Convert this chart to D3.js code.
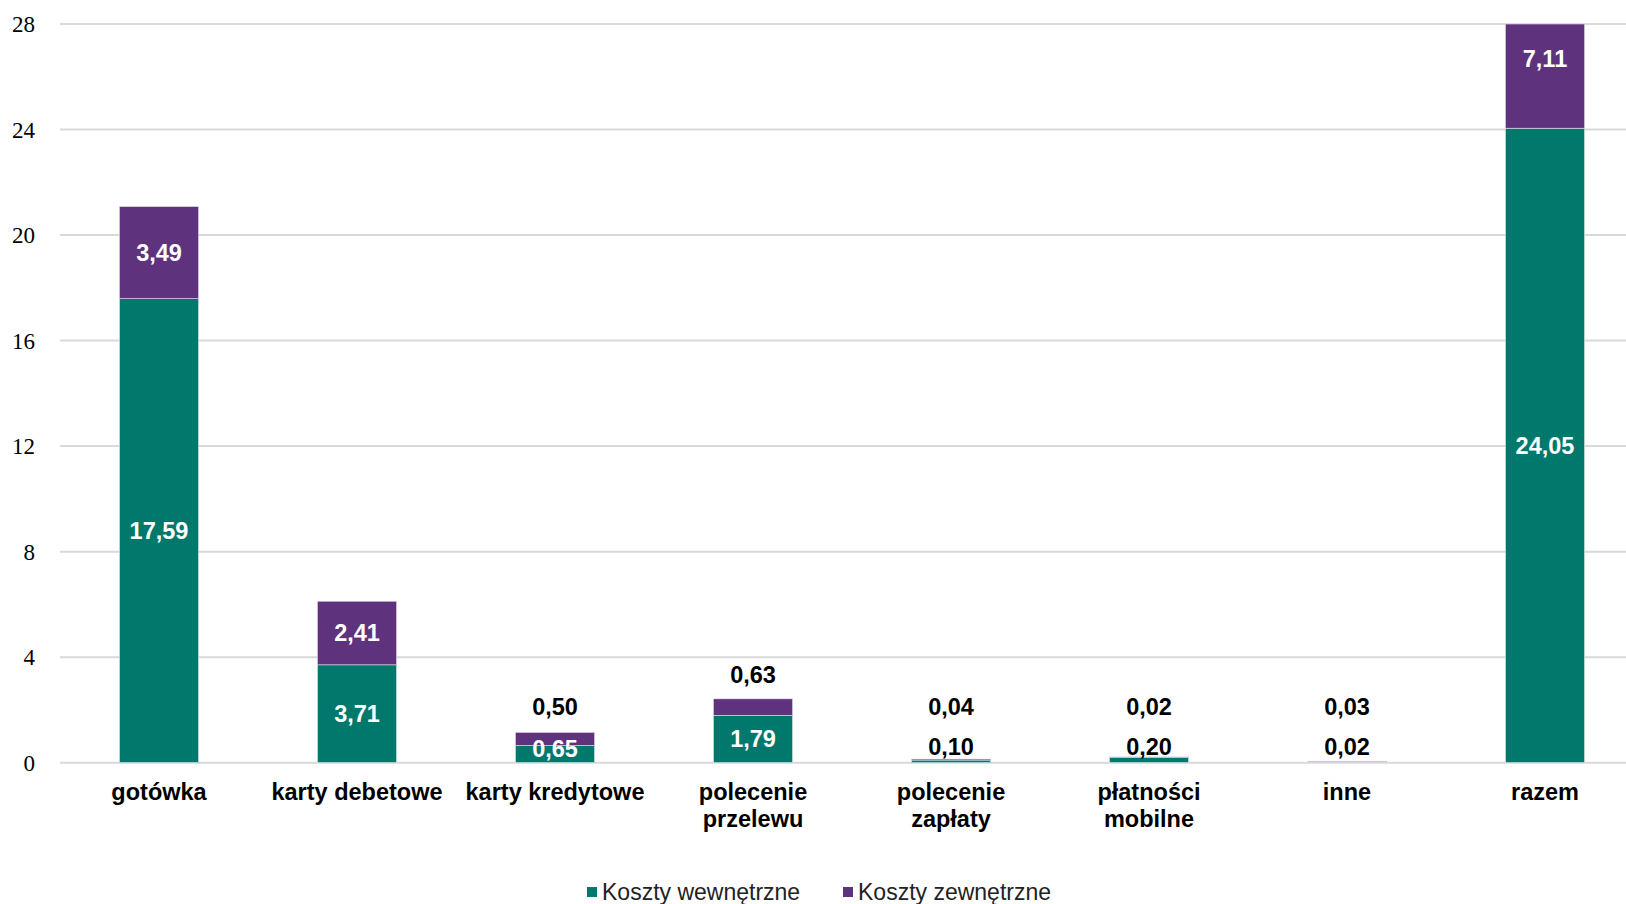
<!DOCTYPE html>
<html><head><meta charset="utf-8">
<script src="https://cdn.jsdelivr.net/npm/d3@7"></script>
<style>body{margin:0;background:#fff;}svg{display:block;}</style>
</head><body>
<svg id="chart" width="1626" height="904"></svg>
<script>
const categories = ["gotówka", "karty debetowe", "karty kredytowe", "polecenie przelewu", "polecenie zapłaty", "płatności mobilne", "inne", "razem"];
const categoryLines = [["gotówka"], ["karty debetowe"], ["karty kredytowe"], ["polecenie", "przelewu"], ["polecenie", "zapłaty"], ["płatności", "mobilne"], ["inne"], ["razem"]];
const internalCosts = [17.59, 3.71, 0.65, 1.79, 0.10, 0.20, 0.02, 24.05];
const externalCosts = [3.49, 2.41, 0.50, 0.63, 0.04, 0.02, 0.03, 7.11];
const yTicks = [0, 4, 8, 12, 16, 20, 24, 28];
const seriesNames = ["Koszty wewnętrzne", "Koszty zewnętrzne"];
const colors = ["#00786C", "#5E327C"];

const svg = d3.select("#chart");
const yMax = 28;
const y = d3.scaleLinear().domain([0, yMax]).range([762.7, 24]);
const x = d3.scaleBand().domain(categories).range([60, 1644]).paddingInner(0.6).paddingOuter(0.3);
const fmt = v => d3.format(".2f")(v).replace(".", ",");

// gridlines
svg.append("g").selectAll("line").data(yTicks).join("line")
  .attr("x1", 60).attr("x2", 1626)
  .attr("y1", d => y(d)).attr("y2", d => y(d))
  .attr("stroke", "#d9d9d9").attr("stroke-width", 2);

// y axis labels
svg.append("g").selectAll("text").data(yTicks).join("text")
  .attr("x", 35).attr("y", d => y(d)).attr("dy", "0.35em")
  .attr("text-anchor", "end")
  .attr("font-family", "'Liberation Serif', 'Times New Roman', serif")
  .attr("font-size", 23).attr("fill", "#000")
  .text(d => d);

const data = categories.map((c, i) => ({c, i, a: internalCosts[i], b: externalCosts[i]}));
const clipTop = v => Math.min(v, yMax);

const gBars = svg.append("g");
// internal
gBars.selectAll("rect.int").data(data).join("rect").attr("class", "int")
  .attr("x", d => x(d.c)).attr("width", x.bandwidth())
  .attr("y", d => y(clipTop(d.a))).attr("height", d => y(0) - y(clipTop(d.a)))
  .attr("fill", colors[0]).attr("stroke", "#e8f0ee").attr("stroke-width", 0.6);
// external
gBars.selectAll("rect.ext").data(data).join("rect").attr("class", "ext")
  .attr("x", d => x(d.c)).attr("width", x.bandwidth())
  .attr("y", d => y(clipTop(d.a + d.b))).attr("height", d => y(clipTop(d.a)) - y(clipTop(d.a + d.b)))
  .attr("fill", colors[1]).attr("stroke", "#e6e0ea").attr("stroke-width", 0.6);

// labels
const lblFont = "'Liberation Sans', Arial, sans-serif";
const labels = svg.append("g").attr("font-family", lblFont).attr("font-weight", "bold").attr("font-size", 23.5).attr("text-anchor", "middle");
data.forEach(d => {
  const cx = x(d.c) + x.bandwidth() / 2;
  const y0 = y(0), yA = y(clipTop(d.a)), yT = y(clipTop(d.a + d.b));
  const hA = y0 - yA, hB = yA - yT;
  let iy, iFill;
  if (hA >= 40) { iy = (y0 + yA) / 2; iFill = "#fff"; }
  else if (hA >= 12) { iy = Math.min((y0 + yA) / 2, y0 - 14); iFill = "#fff"; }
  else { iy = y0 - 16; iFill = "#000"; }
  labels.append("text").attr("x", cx).attr("y", iy).attr("dy", "0.35em").attr("fill", iFill).text(fmt(d.a));
  let ey, eFill = "#fff";
  if (d.a + d.b > yMax) { ey = yT + 35; }
  else if (hB >= 40) { ey = (yA + yT) / 2; }
  else { ey = Math.min(yT - 24, y0 - 56); eFill = "#000"; }
  labels.append("text").attr("x", cx).attr("y", ey).attr("dy", "0.35em").attr("fill", eFill).text(fmt(d.b));
});

// category labels
const cat = svg.append("g").attr("font-family", lblFont).attr("font-weight", "bold").attr("font-size", 23.5).attr("text-anchor", "middle").attr("fill", "#000");
data.forEach(d => {
  const t = cat.append("text").attr("x", x(d.c) + x.bandwidth() / 2).attr("y", 792).attr("dy", "0.35em");
  categoryLines[d.i].forEach((ln, k) => {
    t.append("tspan").attr("x", x(d.c) + x.bandwidth() / 2).attr("dy", k === 0 ? "0.35em" : 27).text(ln);
  });
});

// legend
const legend = svg.append("g").attr("font-family", lblFont).attr("font-size", 23).attr("fill", "#222");
const legX = [587, 843];
seriesNames.forEach((s, i) => {
  legend.append("rect").attr("x", legX[i]).attr("y", 887).attr("width", 10).attr("height", 10).attr("fill", colors[i]);
  legend.append("text").attr("x", legX[i] + 15).attr("y", 892).attr("dy", "0.35em").text(s);
});
</script>
</body></html>
